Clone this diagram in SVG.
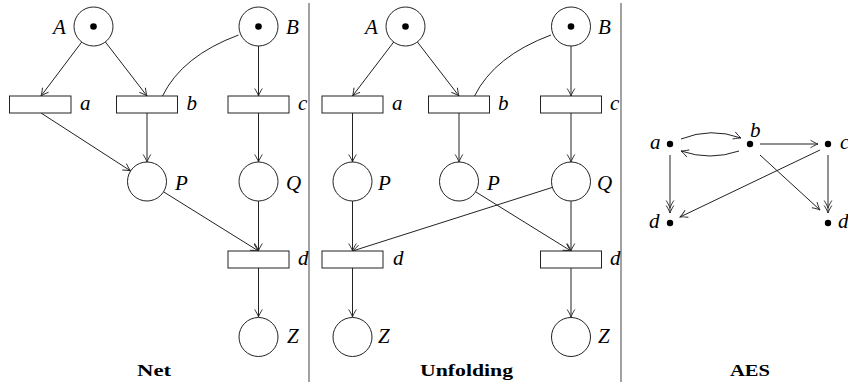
<svg xmlns="http://www.w3.org/2000/svg" width="848" height="382" viewBox="0 0 848 382">
  <style>
    .place { fill: #fff; stroke: #222; stroke-width: 1; }
    .trans { fill: #fff; stroke: #222; stroke-width: 1; }
    .token { fill: #000; }
    .lbl { font-family: "Liberation Serif", "DejaVu Serif", serif; font-style: italic; font-size: 21px; fill: #000; }
    .title { font-family: "Liberation Serif", "DejaVu Serif", serif; font-weight: bold; font-size: 17px; fill: #000; }
    .arc { fill: none; stroke: #222; stroke-width: 1; }
    .to { marker-end: url(#head); }
    .to2 { marker-end: url(#head2); }
    .sep { stroke: #444; stroke-width: 1; }
  </style>
  <defs>
    <marker id="head" markerUnits="userSpaceOnUse" markerWidth="12" markerHeight="10" viewBox="-9 -5 10 10" refX="0" refY="0" orient="auto" overflow="visible">
      <path d="M-7.5,-3.8 C-4.2,-1.7 -1.2,-0.4 0,0 C-1.2,0.4 -4.2,1.7 -7.5,3.8" fill="none" stroke="#222" stroke-width="0.9"/>
    </marker>
    <marker id="head2" markerUnits="userSpaceOnUse" markerWidth="16" markerHeight="10" viewBox="-13 -5 14 10" refX="0" refY="0" orient="auto" overflow="visible">
      <path d="M-7.5,-3.8 C-4.2,-1.7 -1.2,-0.4 0,0 C-1.2,0.4 -4.2,1.7 -7.5,3.8 M-12.5,-3.8 C-9.2,-1.7 -6.2,-0.4 -5,0 C-6.2,0.4 -9.2,1.7 -12.5,3.8" fill="none" stroke="#222" stroke-width="0.9"/>
    </marker>
  </defs>

  <!-- panel separators -->
  <line class="sep" x1="309" y1="3" x2="309" y2="382"/>
  <line class="sep" x1="621" y1="3" x2="621" y2="382"/>

  <!-- ========== connectors ========== -->
  <g id="connectors">
    <!-- Net -->
    <line class="arc to" x1="81.7" y1="42.1" x2="41" y2="96"/>
    <line class="arc to" x1="105.4" y1="42" x2="147" y2="96"/>
    <path class="arc" d="M238.5,35 Q182,56 162.5,96"/>
    <line class="arc to" x1="258.5" y1="46" x2="258.5" y2="96"/>
    <line class="arc to" x1="41" y1="113" x2="130.6" y2="170.9"/>
    <line class="arc to" x1="147" y1="113" x2="147" y2="162"/>
    <line class="arc to" x1="258.5" y1="113" x2="258.5" y2="162"/>
    <line class="arc to" x1="163.5" y1="191.8" x2="258.5" y2="251"/>
    <line class="arc to" x1="258.5" y1="201" x2="258.5" y2="251"/>
    <line class="arc to" x1="258.5" y1="268" x2="258.5" y2="317"/>

    <!-- Unfolding -->
    <line class="arc to" x1="393.7" y1="42" x2="352.5" y2="96"/>
    <line class="arc to" x1="417.4" y1="42" x2="459" y2="96"/>
    <path class="arc" d="M551,35 Q494.5,56 474.5,96"/>
    <line class="arc to" x1="571" y1="46" x2="571" y2="96"/>
    <line class="arc to" x1="352.5" y1="113" x2="352.5" y2="162"/>
    <line class="arc to" x1="459" y1="113" x2="459" y2="162"/>
    <line class="arc to" x1="571" y1="113" x2="571" y2="162"/>
    <line class="arc to" x1="352.5" y1="201" x2="352.5" y2="251"/>
    <line class="arc to" x1="552.4" y1="187.4" x2="352.5" y2="251"/>
    <line class="arc to" x1="475.6" y1="191.8" x2="571" y2="251"/>
    <line class="arc to" x1="571" y1="201" x2="571" y2="251"/>
    <line class="arc to" x1="352.5" y1="268" x2="352.5" y2="317"/>
    <line class="arc to" x1="571" y1="268" x2="571" y2="317"/>

    <!-- AES -->
    <path class="arc to" d="M681,139 Q711,127 741,138"/>
    <path class="arc to" d="M739,151 Q710,161 681,151"/>
    <line class="arc to" x1="760" y1="144" x2="818" y2="144"/>
    <line class="arc to" x1="760" y1="155" x2="820" y2="210"/>
    <line class="arc to" x1="820" y1="150" x2="680" y2="217"/>
    <line class="arc to2" x1="670" y1="155" x2="670" y2="213"/>
    <line class="arc to2" x1="828" y1="155" x2="828" y2="213"/>
  </g>

  <!-- ========== Net ========== -->
  <g id="net-A"><circle class="place" cx="93.5" cy="26.5" r="19.5"/><circle class="token" cx="93.5" cy="26.5" r="3.3"/><text class="lbl" x="53" y="34">A</text></g>
  <g id="net-B"><circle class="place" cx="258.5" cy="26.5" r="19.5"/><circle class="token" cx="258.5" cy="26.5" r="3.3"/><text class="lbl" x="286" y="34">B</text></g>
  <g id="net-a"><rect class="trans" x="9.5" y="96" width="61.5" height="17"/><text class="lbl" x="80" y="110">a</text></g>
  <g id="net-b"><rect class="trans" x="116.5" y="96" width="61" height="17"/><text class="lbl" x="186.5" y="110">b</text></g>
  <g id="net-c"><rect class="trans" x="228" y="96" width="61" height="17"/><text class="lbl" x="298" y="110">c</text></g>
  <g id="net-P"><circle class="place" cx="147" cy="181.5" r="19.5"/><text class="lbl" x="175" y="190">P</text></g>
  <g id="net-Q"><circle class="place" cx="258.5" cy="181.5" r="19.5"/><text class="lbl" x="286" y="190">Q</text></g>
  <g id="net-d"><rect class="trans" x="228" y="251" width="61" height="17"/><text class="lbl" x="298" y="265">d</text></g>
  <g id="net-Z"><circle class="place" cx="258.5" cy="337" r="19.5"/><text class="lbl" x="287" y="343">Z</text></g>
  <text class="title" x="137" y="376" textLength="34" lengthAdjust="spacingAndGlyphs">Net</text>

  <!-- ========== Unfolding ========== -->
  <g id="unf-A"><circle class="place" cx="405.5" cy="26.5" r="19.5"/><circle class="token" cx="405.5" cy="26.5" r="3.3"/><text class="lbl" x="365" y="34">A</text></g>
  <g id="unf-B"><circle class="place" cx="571" cy="26.5" r="19.5"/><circle class="token" cx="571" cy="26.5" r="3.3"/><text class="lbl" x="598" y="34">B</text></g>
  <g id="unf-a"><rect class="trans" x="322" y="96" width="61" height="17"/><text class="lbl" x="392" y="110">a</text></g>
  <g id="unf-b"><rect class="trans" x="428.5" y="96" width="61" height="17"/><text class="lbl" x="498" y="110">b</text></g>
  <g id="unf-c"><rect class="trans" x="540.5" y="96" width="61" height="17"/><text class="lbl" x="610" y="110">c</text></g>
  <g id="unf-P1"><circle class="place" cx="352.5" cy="181.5" r="19.5"/><text class="lbl" x="378" y="190">P</text></g>
  <g id="unf-P2"><circle class="place" cx="459" cy="181.5" r="19.5"/><text class="lbl" x="487" y="190">P</text></g>
  <g id="unf-Q"><circle class="place" cx="571" cy="181.5" r="19.5"/><text class="lbl" x="597" y="190">Q</text></g>
  <g id="unf-d1"><rect class="trans" x="322" y="251" width="61" height="17"/><text class="lbl" x="393" y="265">d</text></g>
  <g id="unf-d2"><rect class="trans" x="540.5" y="251" width="61" height="17"/><text class="lbl" x="610" y="265">d</text></g>
  <g id="unf-Z1"><circle class="place" cx="352.5" cy="337" r="19.5"/><text class="lbl" x="378" y="343">Z</text></g>
  <g id="unf-Z2"><circle class="place" cx="571" cy="337" r="19.5"/><text class="lbl" x="598" y="343">Z</text></g>
  <text class="title" x="420" y="376" textLength="93" lengthAdjust="spacingAndGlyphs">Unfolding</text>

  <!-- ========== AES ========== -->
  <g id="aes-a"><circle class="token" cx="670" cy="144" r="3.2"/><text class="lbl" x="650" y="149">a</text></g>
  <g id="aes-b"><circle class="token" cx="750" cy="144" r="3.2"/><text class="lbl" x="750" y="137">b</text></g>
  <g id="aes-c"><circle class="token" cx="828" cy="144" r="3.2"/><text class="lbl" x="840" y="149">c</text></g>
  <g id="aes-d1"><circle class="token" cx="670" cy="223" r="3.2"/><text class="lbl" x="649" y="228">d</text></g>
  <g id="aes-d2"><circle class="token" cx="828" cy="223" r="3.2"/><text class="lbl" x="838" y="228">d</text></g>
  <text class="title" x="730" y="376" textLength="40" lengthAdjust="spacingAndGlyphs">AES</text>
</svg>
